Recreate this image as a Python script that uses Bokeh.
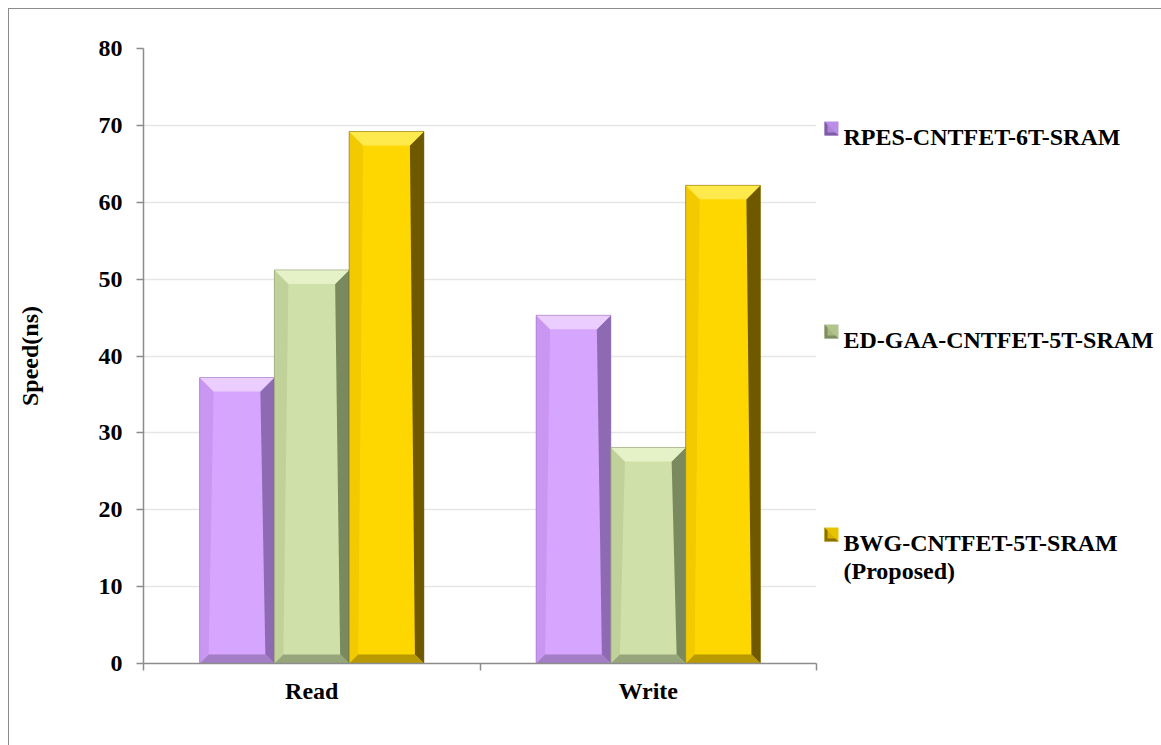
from bokeh.plotting import figure
from bokeh.layouts import row
from bokeh.models import FixedTicker, ColumnDataSource, Range1d
from bokeh.core.properties import value
from bokeh.embed import file_html
from bokeh.resources import INLINE

# ---- data ----
categories = ["Read", "Write"]
series_names = ["RPES-CNTFET-6T-SRAM", "ED-GAA-CNTFET-5T-SRAM", "BWG-CNTFET-5T-SRAM\n(Proposed)"]
rpes_6t = [37.2, 45.3]
ed_gaa_5t = [51.2, 28.1]
bwg_5t = [69.2, 62.2]
y_ticks = [0, 10, 20, 30, 40, 50, 60, 70, 80]

series_values = [rpes_6t, ed_gaa_5t, bwg_5t]

# ---- styles ----
FONT = "Liberation Serif"
FS = "24px"
H = 737
W_MAIN = 812
W_LEG = 341
ML, MR, MT, MB = 134, 5, 39, 83
FRAME_W = W_MAIN - ML - MR
FRAME_H = H - MT - MB
XMAX = len(categories)
YMAX = 80
px_x = FRAME_W / XMAX
px_y = FRAME_H / YMAX
BORDER = "1px solid #8C8C8C"

palettes = [
    # main, top, left, right, bottom, legend-light, legend-dark
    ("#D6A5FE", "#EBCDFF", "#C996F2", "#8E6AB2", "#A27EC6", "#B98EE6", "#7E5CA6"),
    ("#CFE0A8", "#E5F1C6", "#C0D19A", "#7A8A5E", "#97A67A", "#B2C48C", "#7E8E62"),
    ("#FFD700", "#FFEA4D", "#F3C900", "#6E5900", "#B89900", "#E8C200", "#8A7000"),
]

fig = figure(width=W_MAIN, height=H, output_backend="svg", toolbar_location=None,
             x_range=Range1d(0, XMAX), y_range=Range1d(0, YMAX),
             min_border_left=ML, min_border_right=MR, min_border_top=MT, min_border_bottom=MB)
fig.styles = {"border-left": BORDER, "border-top": BORDER}
fig.outline_line_color = None
fig.background_fill_color = "white"
fig.border_fill_color = "white"

# axes
fig.yaxis.ticker = FixedTicker(ticks=y_ticks)
fig.yaxis.axis_label = "Speed(ns)"
fig.yaxis.axis_label_text_font = FONT
fig.yaxis.axis_label_text_font_style = "bold"
fig.yaxis.axis_label_text_font_size = FS
fig.yaxis.axis_label_text_color = "black"
fig.yaxis.axis_label_standoff = 53
fig.yaxis.major_label_text_font = FONT
fig.yaxis.major_label_text_font_style = "bold"
fig.yaxis.major_label_text_font_size = FS
fig.yaxis.major_label_text_color = "black"
fig.yaxis.major_label_standoff = 14
fig.yaxis.major_tick_out = 7
fig.yaxis.major_tick_in = 0
fig.yaxis.minor_tick_out = 0
fig.yaxis.minor_tick_in = 0
fig.yaxis.axis_line_color = "#8C8C8C"
fig.yaxis.axis_line_width = 1.5
fig.yaxis.major_tick_line_color = "#8C8C8C"
fig.yaxis.major_tick_line_width = 1.5

centers = [i + 0.5 for i in range(len(categories))]
fig.xaxis.ticker = FixedTicker(ticks=centers, minor_ticks=list(range(len(categories) + 1)))
fig.xaxis.major_label_overrides = {c: name for c, name in zip(centers, categories)}
fig.xaxis.major_label_text_font = FONT
fig.xaxis.major_label_text_font_style = "bold"
fig.xaxis.major_label_text_font_size = FS
fig.xaxis.major_label_text_color = "black"
fig.xaxis.major_label_standoff = 7
fig.xaxis.major_tick_out = 0
fig.xaxis.major_tick_in = 0
fig.xaxis.minor_tick_out = 7
fig.xaxis.minor_tick_in = 0
fig.xaxis.minor_tick_line_color = "#8C8C8C"
fig.xaxis.minor_tick_line_width = 1.5
fig.xaxis.axis_line_color = "#8C8C8C"
fig.xaxis.axis_line_width = 1.5

fig.xgrid.grid_line_color = None
fig.ygrid.grid_line_color = "#E6E6E6"
fig.ygrid.grid_line_width = 1.5

# bars with bevel
n = len(series_values)
bw = 1.0 / (n + 1.5)
B = 14.0   # bevel size in px
BB = 9.0   # bottom bevel px
bx = B / px_x
by = B / px_y
bbx = BB / px_x
bby = BB / px_y

for s, vals in enumerate(series_values):
    main, top_c, left_c, right_c, bot_c, _, _ = palettes[s]
    x0 = [c - bw * n / 2 + s * bw for c in centers]
    x1 = [a + bw for a in x0]
    src = ColumnDataSource(dict(left=x0, right=x1, top=vals, bottom=[0] * len(vals)))
    fig.quad(left="left", right="right", top="top", bottom="bottom", source=src,
             fill_color=main, line_color=None)
    tops_x, tops_y, ls_x, ls_y, rs_x, rs_y, bs_x, bs_y = [], [], [], [], [], [], [], []
    for a, b, v in zip(x0, x1, vals):
        tops_x.append([a, b, b - bx, a + bx]); tops_y.append([v, v, v - by, v - by])
        ls_x.append([a, a + bx, a + bbx, a]); ls_y.append([v, v - by, bby, 0])
        rs_x.append([b, b - bx, b - bbx, b]); rs_y.append([v, v - by, bby, 0])
        bs_x.append([a, b, b - bbx, a + bbx]); bs_y.append([0, 0, bby, bby])
    fig.patches(ls_x, ls_y, fill_color=left_c, line_color=None)
    fig.patches(rs_x, rs_y, fill_color=right_c, line_color=None)
    fig.patches(bs_x, bs_y, fill_color=bot_c, line_color=None)
    fig.patches(tops_x, tops_y, fill_color=top_c, line_color=None)
    fig.quad(left="left", right="right", top="top", bottom="bottom", source=src,
             fill_alpha=0, line_color=right_c, line_alpha=0.5, line_width=1)

# ---- legend panel (figure-pixel coordinates, y downward; frame matches main frame rows) ----
leg = figure(width=W_LEG, height=H, output_backend="svg", toolbar_location=None,
             x_range=Range1d(0, W_LEG), y_range=Range1d(H - MB, MT),
             min_border_left=0, min_border_right=0, min_border_top=MT, min_border_bottom=MB)
leg.axis.visible = False
leg.grid.visible = False
leg.outline_line_color = None
leg.background_fill_color = "white"
leg.border_fill_color = "white"
leg.styles = {"border-top": BORDER}

LEG_X = 4          # square left
SQ = 14            # square size
TXT_X = 23         # text left
ITEM_Y = [112, 315, 518]   # top of each legend square (figure px)
LINE_H = 28

for s, name in enumerate(series_names):
    _, _, _, _, _, light, dark = palettes[s]
    t = ITEM_Y[s]
    leg.quad(left=[LEG_X], right=[LEG_X + SQ], top=[t], bottom=[t + SQ],
             fill_color=light, line_color=None)
    leg.patches([[LEG_X, LEG_X, LEG_X + SQ]], [[t, t + SQ, t + SQ]],
                fill_color=dark, line_color=None)
    leg.patches([[LEG_X + 3, LEG_X + SQ - 3, LEG_X + SQ - 3, LEG_X + 3]],
                [[t + 3, t + 3, t + SQ - 3, t + SQ - 3]],
                fill_color=light, line_color=None, fill_alpha=0.8)
    lines = name.split("\n")
    leg.text(x=[TXT_X] * len(lines), y=[t + SQ + 1 + i * LINE_H for i in range(len(lines))],
             text=lines, text_font=value(FONT), text_font_style="bold",
             text_font_size=FS, text_color="black", text_baseline="alphabetic",
             text_align="left")

p = row(fig, leg, spacing=0)
p.styles = {"margin-left": "8px", "margin-top": "8px"}

open("out.html", "w").write(file_html(p, INLINE))
